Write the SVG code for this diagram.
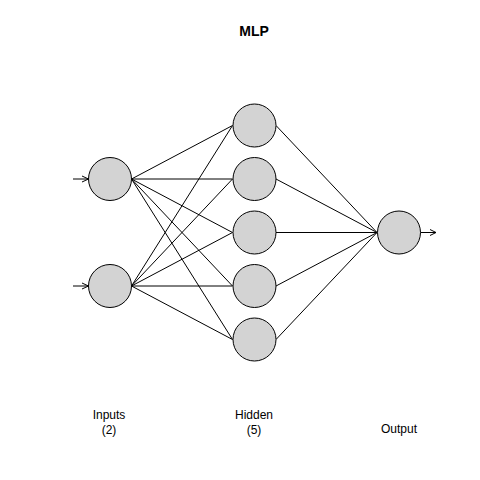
<svg xmlns="http://www.w3.org/2000/svg" width="480" height="480" viewBox="0 0 480 480">
<style>
.n{fill:#d3d3d3;stroke:#000;stroke-width:1}
.c line{stroke:#000;stroke-width:1}
.a{stroke:#000;stroke-width:1;fill:none}
text{font-family:"Liberation Sans",Arial,sans-serif;font-size:12px;text-anchor:middle;fill:#000}
.t{font-weight:bold;font-size:14px}
</style>
<rect width="480" height="480" fill="#fff"/>
<text class="t" x="254" y="36">MLP</text>
<g class="c" id="connectors">
<line x1="131.5" y1="179" x2="232.5" y2="125.5"/>
<line x1="131.5" y1="179" x2="232.5" y2="179"/>
<line x1="131.5" y1="179" x2="232.5" y2="232.5"/>
<line x1="131.5" y1="179" x2="232.5" y2="286"/>
<line x1="131.5" y1="179" x2="232.5" y2="339.5"/>
<line x1="131.5" y1="286" x2="232.5" y2="125.5"/>
<line x1="131.5" y1="286" x2="232.5" y2="179"/>
<line x1="131.5" y1="286" x2="232.5" y2="232.5"/>
<line x1="131.5" y1="286" x2="232.5" y2="286"/>
<line x1="131.5" y1="286" x2="232.5" y2="339.5"/>
<line x1="276" y1="125.5" x2="377" y2="232.5"/>
<line x1="276" y1="179" x2="377" y2="232.5"/>
<line x1="276" y1="232.5" x2="377" y2="232.5"/>
<line x1="276" y1="286" x2="377" y2="232.5"/>
<line x1="276" y1="339.5" x2="377" y2="232.5"/>
<path class="a" d="M73 179H88.5M82 176L88.5 179L82 182"/>
<path class="a" d="M73 286H88.5M82 283L88.5 286L82 289"/>
<path class="a" d="M420.5 232.5H436M430 229.5L436 232.5L430 235.5"/>
</g>
<g id="in1"><circle class="n" cx="110" cy="179" r="21.5"/></g>
<g id="in2"><circle class="n" cx="110" cy="286" r="21.5"/></g>
<g id="h1"><circle class="n" cx="254.5" cy="125.5" r="21.5"/></g>
<g id="h2"><circle class="n" cx="254.5" cy="179" r="21.5"/></g>
<g id="h3"><circle class="n" cx="254.5" cy="232.5" r="21.5"/></g>
<g id="h4"><circle class="n" cx="254.5" cy="286" r="21.5"/></g>
<g id="h5"><circle class="n" cx="254.5" cy="339.5" r="21.5"/></g>
<g id="out"><circle class="n" cx="399" cy="232.5" r="21.5"/></g>
<g id="labels">
<text x="109" y="419">Inputs</text>
<text x="109" y="434">(2)</text>
<text x="254" y="419">Hidden</text>
<text x="254" y="434">(5)</text>
<text x="399" y="433">Output</text>
</g>
</svg>
